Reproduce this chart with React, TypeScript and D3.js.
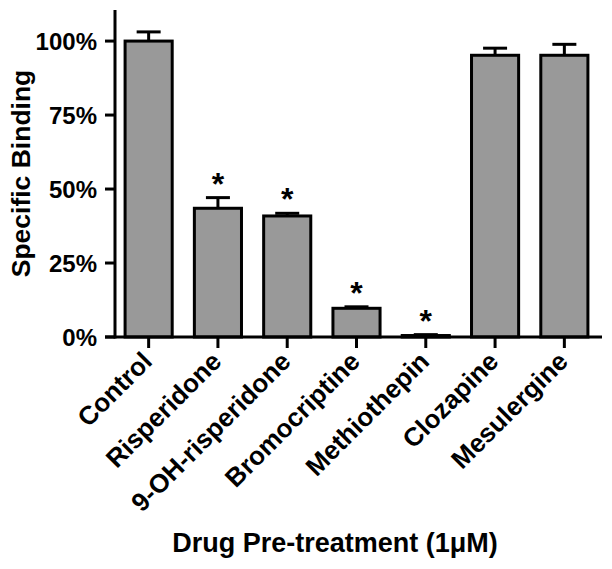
import React from "react";
import * as d3 from "d3";

const drugs = [
  "Control",
  "Risperidone",
  "9-OH-risperidone",
  "Bromocriptine",
  "Methiothepin",
  "Clozapine",
  "Mesulergine",
];
const binding = [100, 43.5, 40.9, 9.7, 0.5, 95.2, 95.2];
const errUp = [3.1, 3.6, 0.9, 0.5, 0.3, 2.4, 3.7];
const significant = [false, true, true, true, true, false, false];
const yTicks = [0, 25, 50, 75, 100];

const W = 612;
const H = 569;
const font = "'Liberation Sans', Arial, Helvetica, sans-serif";

export default function App() {
  const x = d3.scaleBand<string>().domain(drugs).range([114, 599]).paddingInner(0.32).paddingOuter(0.16);
  const y = d3.scaleLinear().domain([0, 110.5]).range([337, 10]);
  const bw = x.bandwidth();
  const cx = (d: string) => (x(d) as number) + bw / 2;

  return (
    <svg
      width={W}
      height={H}
      style={{ position: "absolute", left: 0, top: 0, background: "#fff" }}
      fontFamily={font}
      fontWeight="bold"
    >
      {/* bars */}
      {drugs.map((d, i) => (
        <g key={d}>
          <line
            x1={cx(d)}
            x2={cx(d)}
            y1={y(binding[i])}
            y2={y(binding[i] + errUp[i])}
            stroke="#000"
            strokeWidth={3}
          />
          <line
            x1={cx(d) - 12}
            x2={cx(d) + 12}
            y1={y(binding[i] + errUp[i])}
            y2={y(binding[i] + errUp[i])}
            stroke="#000"
            strokeWidth={3}
          />
          <rect
            x={x(d)}
            y={y(binding[i])}
            width={bw}
            height={y(0) - y(binding[i])}
            fill="#999999"
            stroke="#000"
            strokeWidth={3}
          />
          {significant[i] && (
            <text x={cx(d)} y={y(binding[i] + errUp[i]) - 3} textAnchor="middle" fontSize={32}>
              *
            </text>
          )}
        </g>
      ))}

      {/* y axis */}
      <line x1={115} x2={115} y1={y.range()[1]} y2={y(0) + 1.5} stroke="#000" strokeWidth={3} />
      {yTicks.map((t) => (
        <g key={t}>
          <line x1={105} x2={115} y1={y(t)} y2={y(t)} stroke="#000" strokeWidth={3} />
          <text x={97} y={y(t)} dy="0.36em" textAnchor="end" fontSize={24}>
            {t}%
          </text>
        </g>
      ))}
      <text
        transform={`translate(30,${(y(0) + y(110.5)) / 2}) rotate(-90)`}
        textAnchor="middle"
        fontSize={26.5}
      >
        Specific Binding
      </text>

      {/* x axis */}
      <line x1={105} x2={602} y1={y(0)} y2={y(0)} stroke="#000" strokeWidth={3} />
      {drugs.map((d) => (
        <g key={d}>
          <line x1={cx(d)} x2={cx(d)} y1={y(0)} y2={y(0) + 11} stroke="#000" strokeWidth={3} />
          <text
            transform={`translate(${cx(d) + 5},${y(0) + 26}) rotate(-45)`}
            textAnchor="end"
            fontSize={26}
          >
            {d}
          </text>
        </g>
      ))}
      <text x={335} y={552} textAnchor="middle" fontSize={27}>
        Drug Pre-treatment (1μM)
      </text>
    </svg>
  );
}
